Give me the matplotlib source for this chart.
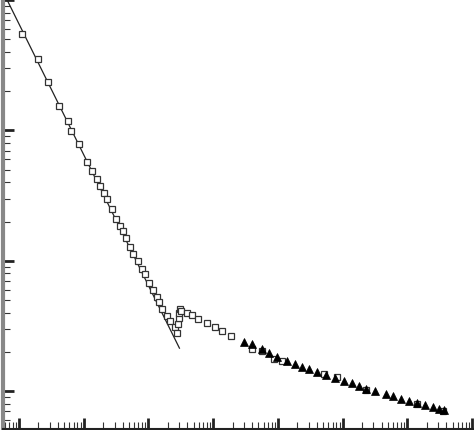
import numpy as np
import matplotlib
matplotlib.use("Agg")
import matplotlib.pyplot as plt

# log10 values (axes carry no labels)
sq_logx = [-1.947, -1.700, -1.546, -1.376, -1.236, -1.190, -1.066, -0.943, -0.866,
           -0.788, -0.742, -0.680, -0.634, -0.556, -0.495, -0.433, -0.386, -0.340,
           -0.278, -0.232, -0.155, -0.093, -0.046, 0.015, 0.077, 0.139, 0.170,
           0.216, 0.294, 0.340, 0.417, 0.448,
           0.464, 0.479, 0.479, 0.495, 0.510,
           0.603, 0.680, 0.773, 0.912, 1.036, 1.144, 1.283, 1.607, 1.747, 1.947,
           2.071, 2.705, 2.921, 3.369, 4.142, 4.544]
sq_logy = [2.743, 2.544, 2.368, 2.184, 2.069, 1.992, 1.893, 1.755, 1.686,
           1.625, 1.571, 1.517, 1.471, 1.395, 1.318, 1.264, 1.226, 1.172,
           1.103, 1.050, 0.996, 0.935, 0.897, 0.828, 0.774, 0.720, 0.682,
           0.628, 0.575, 0.536, 0.490, 0.444,
           0.513, 0.559, 0.598, 0.628, 0.613,
           0.598, 0.582, 0.552, 0.521, 0.490, 0.460, 0.421, 0.322, 0.307, 0.245,
           0.230, 0.130, 0.107, 0.008, -0.100, -0.153]

tri_logx = [1.484, 1.607, 1.747, 1.870, 1.994, 2.148, 2.257, 2.365, 2.488, 2.612,
            2.751, 2.875, 3.014, 3.138, 3.246, 3.369, 3.493, 3.663, 3.771, 3.895,
            4.019, 4.142, 4.266, 4.389, 4.482, 4.560]
tri_logy = [0.375, 0.360, 0.322, 0.291, 0.261, 0.230, 0.207, 0.184, 0.169, 0.146,
            0.123, 0.100, 0.077, 0.061, 0.038, 0.015, 0.000, -0.023, -0.038, -0.061,
            -0.077, -0.092, -0.107, -0.123, -0.138, -0.146]

# fitted power law, slope -1
fit_logx = [-2.179, 0.479]
fit_logy = [2.996, 0.330]

fig = plt.figure(figsize=(4.74, 4.30), dpi=100)
ax = fig.add_axes([3 / 474, 1 / 430, 471 / 474, 429 / 430])
ax.set_xscale("log")
ax.set_yscale("log")

ax.plot(10 ** np.array(fit_logx), 10 ** np.array(fit_logy), color="#222222", lw=0.9)
ax.plot(10 ** np.array(sq_logx), 10 ** np.array(sq_logy), ls="none", marker="s",
        ms=4.6, mfc="white", mec="#333333", mew=0.9)
ax.plot(10 ** np.array(tri_logx), 10 ** np.array(tri_logy), ls="none", marker="^",
        ms=5.6, mfc="black", mec="black", mew=0.5)

ax.set_xlim(10 ** -2.247, 10 ** 5.03)
ax.set_ylim(10 ** -0.29, 10 ** 3.0)

ax.spines["top"].set_visible(False)
ax.spines["right"].set_visible(False)
ax.spines["left"].set_color("#888888")
ax.spines["left"].set_linewidth(3)
ax.spines["bottom"].set_color("#222222")
ax.spines["bottom"].set_linewidth(1.5)

ax.tick_params(which="major", direction="in", length=8, width=2, color="#222222")
ax.tick_params(which="minor", direction="in", length=5, width=0.8, color="#333333")
ax.tick_params(labelleft=False, labelbottom=False)
ax.xaxis.set_major_locator(matplotlib.ticker.LogLocator(base=10, numticks=20))
ax.xaxis.set_minor_locator(matplotlib.ticker.LogLocator(base=10, subs=np.arange(2, 10), numticks=20))
ax.yaxis.set_minor_locator(matplotlib.ticker.LogLocator(base=10, subs=np.arange(2, 10), numticks=20))

fig.savefig("out.png", dpi=100)
